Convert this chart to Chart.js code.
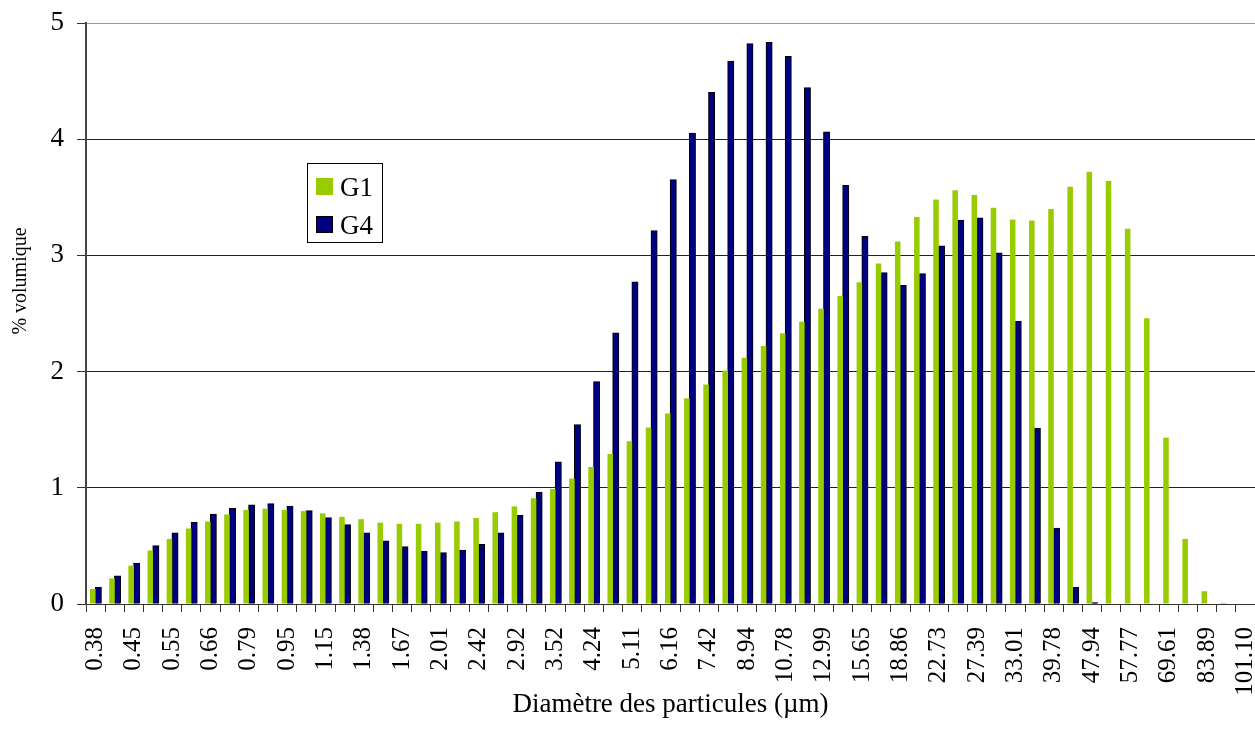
<!DOCTYPE html>
<html lang="fr">
<head>
<meta charset="utf-8">
<title>Granulométrie G1 / G4</title>
<script src="https://cdn.jsdelivr.net/npm/chart.js@4"></script>
<style>
  body { margin: 0; background: #fff; }
  #wrap { width: 1255px; height: 747px; }
</style>
</head>
<body>
<div id="wrap"><canvas id="granulo" width="1255" height="747"></canvas></div>
<script>
// classes de diamètre (µm)
const diametres = ['0.38', '0.41', '0.45', '0.50', '0.55', '0.60', '0.66', '0.72', '0.79', '0.87',
  '0.95', '1.05', '1.15', '1.26', '1.38', '1.52', '1.67', '1.83', '2.01', '2.21',
  '2.42', '2.66', '2.92', '3.21', '3.52', '3.86', '4.24', '4.66', '5.11', '5.61',
  '6.16', '6.76', '7.42', '8.15', '8.94', '9.82', '10.78', '11.83', '12.99', '14.26',
  '15.65', '17.18', '18.86', '20.71', '22.73', '24.95', '27.39', '30.07', '33.01', '36.24',
  '39.78', '43.67', '47.94', '52.62', '57.77', '63.41', '69.61', '76.42', '83.89', '92.09',
  '101.10'];

// % volumique par classe
const g1 = [0.13, 0.22, 0.33, 0.46, 0.56, 0.65, 0.71, 0.77, 0.81, 0.82,
  0.81, 0.80, 0.78, 0.75, 0.73, 0.70, 0.69, 0.69, 0.70, 0.71,
  0.74, 0.79, 0.84, 0.91, 0.99, 1.08, 1.18, 1.29, 1.40, 1.52,
  1.64, 1.77, 1.89, 2.01, 2.12, 2.22, 2.33, 2.43, 2.54, 2.65,
  2.77, 2.93, 3.12, 3.33, 3.48, 3.56, 3.52, 3.41, 3.31, 3.30,
  3.40, 3.59, 3.72, 3.64, 3.23, 2.46, 1.43, 0.56, 0.11, 0.01,
  0];
const g4 = [0.14, 0.24, 0.35, 0.50, 0.61, 0.70, 0.77, 0.82, 0.85, 0.86,
  0.84, 0.80, 0.74, 0.68, 0.61, 0.54, 0.49, 0.45, 0.44, 0.46,
  0.51, 0.61, 0.76, 0.96, 1.22, 1.54, 1.91, 2.33, 2.77, 3.21,
  3.65, 4.05, 4.40, 4.67, 4.82, 4.83, 4.71, 4.44, 4.06, 3.60,
  3.16, 2.85, 2.74, 2.84, 3.08, 3.30, 3.32, 3.02, 2.43, 1.51,
  0.65, 0.14, 0.01, 0, 0, 0, 0, 0, 0, 0,
  0];

const yTicks = [0, 1, 2, 3, 4, 5];

const serif = '"Liberation Serif", "Times New Roman", serif';

// titres des axes, dessinés à la main pour les placer librement
const axisTitles = {
  id: 'axisTitles',
  afterDraw(chart) {
    const { ctx, chartArea } = chart;
    ctx.save();
    ctx.fillStyle = '#000';
    ctx.font = '27px ' + serif;
    ctx.textAlign = 'center';
    ctx.textBaseline = 'middle';
    ctx.fillText('Diamètre des particules (µm)', (chartArea.left + chartArea.right) / 2, 705);
    ctx.translate(21, 281);
    ctx.rotate(-Math.PI / 2);
    ctx.font = '20px ' + serif;
    ctx.fillText('% volumique', 0, 0);
    ctx.restore();
  }
};

// légende encadrée dans la zone du graphique
const boxLegend = {
  id: 'boxLegend',
  afterDraw(chart) {
    const ctx = chart.ctx;
    const x = 307, y = 163, w = 75, h = 79;
    ctx.save();
    ctx.fillStyle = '#fff';
    ctx.fillRect(x, y, w, h);
    ctx.strokeStyle = '#000';
    ctx.lineWidth = 1;
    ctx.strokeRect(x + 0.5, y + 0.5, w, h);
    ctx.font = '27px ' + serif;
    ctx.textBaseline = 'alphabetic';
    chart.data.datasets.forEach((ds, i) => {
      const top = y + 15 + i * 38;
      ctx.fillStyle = ds.backgroundColor;
      ctx.fillRect(x + 9, top, 17, 17);
      if (ds.borderWidth) {
        ctx.strokeStyle = ds.borderColor;
        ctx.strokeRect(x + 9.5, top + 0.5, 16, 16);
      }
      ctx.fillStyle = '#000';
      ctx.fillText(ds.label, x + 33, top + 18);
    });
    ctx.restore();
  }
};

new Chart(document.getElementById('granulo'), {
  type: 'bar',
  data: {
    labels: diametres,
    datasets: [
      {
        label: 'G1',
        data: g1,
        backgroundColor: '#99cc00',
        borderWidth: 0,
        inflateAmount: 0,
        categoryPercentage: 0.58,
        barPercentage: 1.0
      },
      {
        label: 'G4',
        data: g4,
        backgroundColor: '#000080',
        borderColor: '#000000',
        borderWidth: 1,
        inflateAmount: 0.7,
        categoryPercentage: 0.58,
        barPercentage: 1.0
      }
    ]
  },
  options: {
    responsive: false,
    animation: false,
    devicePixelRatio: 1,
    layout: { padding: { top: 23, right: 0, left: 0, bottom: 0 } },
    plugins: {
      legend: { display: false },
      tooltip: { enabled: false }
    },
    scales: {
      x: {
        offset: true,
        grid: {
          offset: true,
          drawOnChartArea: false,
          color: '#333',
          tickLength: 8
        },
        border: { color: '#333', width: 1 },
        ticks: {
          autoSkip: false,
          minRotation: 90,
          maxRotation: 90,
          padding: 15,
          color: '#000',
          font: { family: serif, size: 25 },
          callback: (v, i) => (i % 2 === 0 ? diametres[i] : '')
        },
        afterFit(scale) {
          scale.height = 143;
          scale.paddingLeft = 0;
          scale.paddingRight = 0;
        }
      },
      y: {
        min: 0,
        max: 5,
        afterBuildTicks(scale) {
          scale.ticks = yTicks.map(v => ({ value: v }));
        },
        grid: {
          color: ctx => (ctx.tick && ctx.tick.value === 5 ? '#999' : '#222'),
          tickColor: '#333',
          tickLength: 9
        },
        border: { color: '#444', width: 2 },
        ticks: {
          padding: 13,
          color: '#000',
          font: { family: serif, size: 27 }
        },
        afterFit(scale) {
          scale.width = 86;
          scale.paddingTop = 0;
          scale.paddingBottom = 0;
        }
      }
    }
  },
  plugins: [axisTitles, boxLegend]
});
</script>
</body>
</html>
